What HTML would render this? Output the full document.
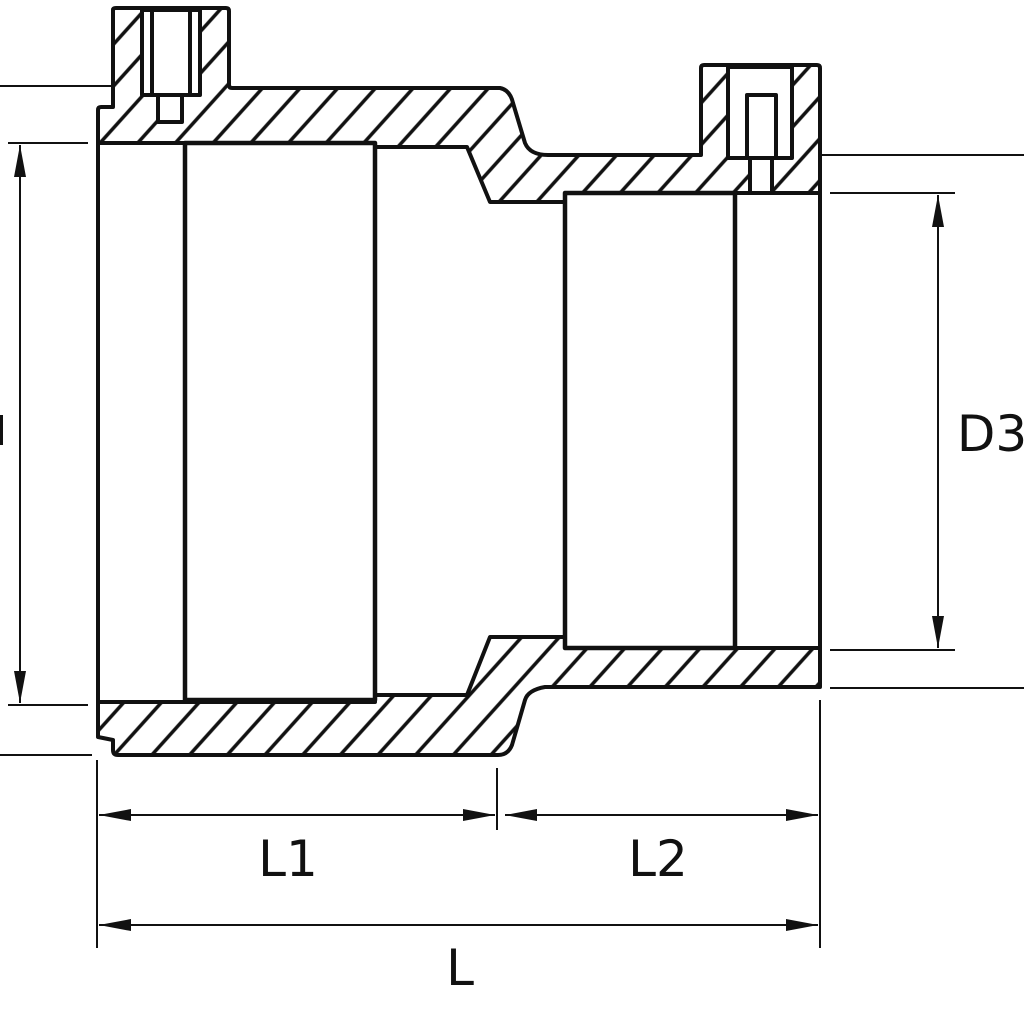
<!DOCTYPE html>
<html><head><meta charset="utf-8"><style>html,body{margin:0;padding:0;background:#fff}svg{display:block}</style></head>
<body>
<svg width="1024" height="1024" viewBox="0 0 1024 1024" xmlns="http://www.w3.org/2000/svg">
<defs>
<pattern id="h" patternUnits="userSpaceOnUse" width="28" height="28" patternTransform="rotate(42)">
<rect width="28" height="28" fill="#fff"/>
<line x1="2" y1="-5" x2="2" y2="33" stroke="#111" stroke-width="3.5"/>
</pattern>
<marker id="a" viewBox="0 0 32 12" refX="32" refY="6" markerWidth="32" markerHeight="12" markerUnits="userSpaceOnUse" orient="auto-start-reverse">
<path d="M0,0 L32,6 L0,12 Z" fill="#111"/>
</marker>
</defs>
<g stroke="#111" stroke-width="4" stroke-linejoin="round" fill="none">
<path fill="url(#h)" d="M98,143 L98,110 Q98,107 101,107 L113,107 L113,10 Q113,8 116,8 L226,8 Q229,8 229,11 L229,85 Q229,88 232,88 L500,88 Q510,90 513,103 L525,143 Q530,155 548,155 L701,155 L701,68 Q701,65 704,65 L817,65 Q820,65 820,68 L820,193 L565,193 L565,202 L490,202 L467,147 L375,147 L375,143 Z"/>
<rect x="142" y="10" width="58" height="85" fill="#fff"/>
<line x1="152" y1="10" x2="152" y2="93"/>
<line x1="190" y1="10" x2="190" y2="93"/>
<rect x="158" y="95" width="24" height="27" fill="#fff"/>
<rect x="728" y="67" width="64" height="91" fill="#fff"/>
<rect x="747" y="95" width="29" height="63" fill="#fff"/>
<rect x="750" y="158" width="22" height="35" fill="#fff"/>
<path fill="url(#h)" d="M98,702 L375,702 L375,695 L467,695 L490,637 L565,637 L565,648 L820,648 L820,687 L545,687 Q528,690 525,700 L512,745 Q508,755 498,755 L118,755 Q113,755 113,750 L113,740 L98,737 Z"/>
<line x1="98" y1="143" x2="98" y2="702"/>
<rect x="185" y="143" width="190" height="557" stroke-width="4.5"/>
<line x1="375" y1="147" x2="375" y2="695"/>
<rect x="565" y="193" width="170" height="455" stroke-width="4.5"/>
<line x1="820" y1="193" x2="820" y2="648"/>
</g>
<g stroke="#111" stroke-width="2" fill="none">
<line x1="0" y1="86" x2="112" y2="86"/>
<line x1="8" y1="143" x2="88" y2="143"/>
<line x1="8" y1="705" x2="88" y2="705"/>
<line x1="0" y1="755" x2="92" y2="755"/>
<line x1="20" y1="145" x2="20" y2="703" marker-start="url(#a)" marker-end="url(#a)"/>
<line x1="822" y1="155" x2="1024" y2="155"/>
<line x1="830" y1="193" x2="955" y2="193"/>
<line x1="830" y1="650" x2="955" y2="650"/>
<line x1="830" y1="688" x2="1024" y2="688"/>
<line x1="938" y1="195" x2="938" y2="648" marker-start="url(#a)" marker-end="url(#a)"/>
<line x1="97" y1="760" x2="97" y2="948"/>
<line x1="497" y1="768" x2="497" y2="830"/>
<line x1="820" y1="700" x2="820" y2="948"/>
<line x1="99" y1="815" x2="495" y2="815" marker-start="url(#a)" marker-end="url(#a)"/>
<line x1="505" y1="815" x2="818" y2="815" marker-start="url(#a)" marker-end="url(#a)"/>
<line x1="99" y1="925" x2="818" y2="925" marker-start="url(#a)" marker-end="url(#a)"/>
</g>
<rect x="0" y="415" width="3" height="30" fill="#111"/>
<g font-family="DejaVu Sans, Liberation Sans, sans-serif" font-size="50" fill="#111" text-anchor="middle">
<text x="288" y="876">L1</text>
<text x="658" y="876">L2</text>
<text x="460" y="985">L</text>
<text x="992" y="451">D3</text>
</g>
</svg>
</body></html>
